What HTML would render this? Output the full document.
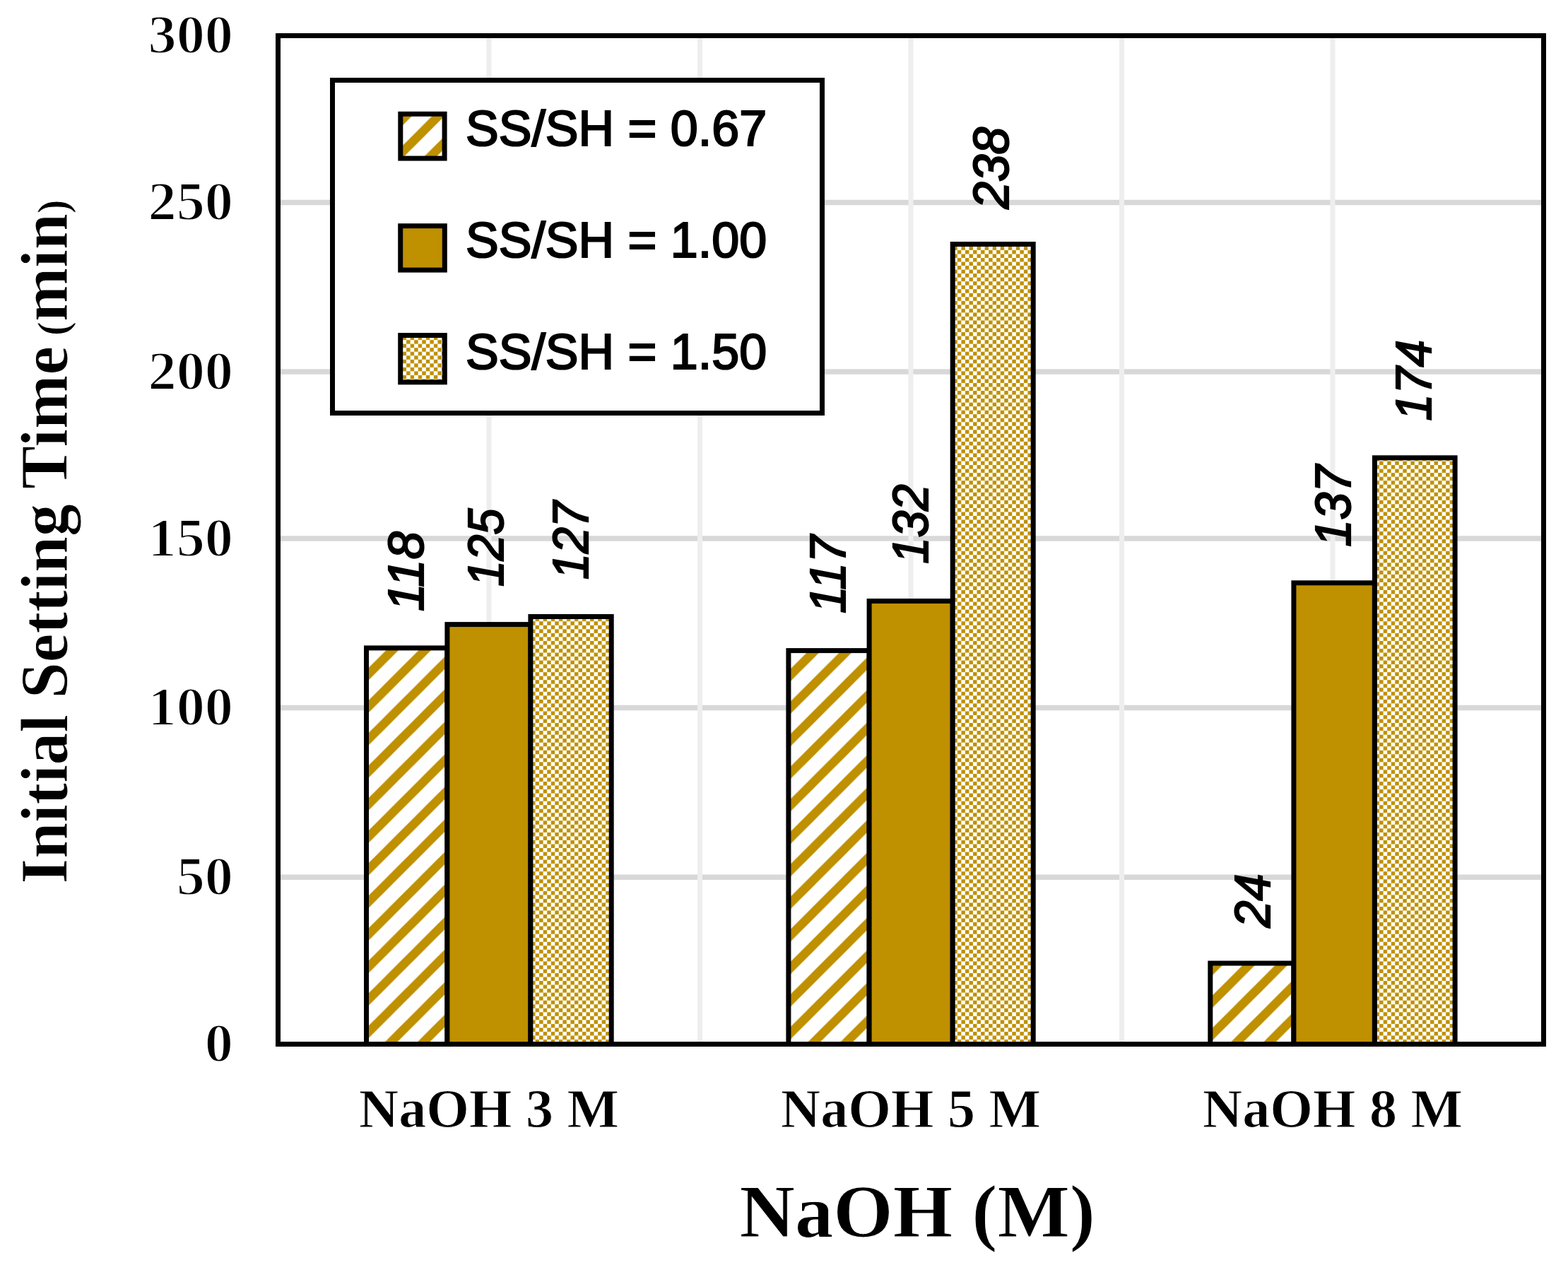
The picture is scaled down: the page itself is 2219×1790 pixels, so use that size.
<!DOCTYPE html><html><head><meta charset="utf-8"><title>Initial Setting Time vs NaOH</title><style>html,body{margin:0;padding:0;background:#fff;overflow:hidden;}svg{display:block;}</style></head><body>
<svg width="2219" height="1790" viewBox="0 0 2219 1790">
<defs>
<pattern id="hatch" patternUnits="userSpaceOnUse" x="1.70" y="0" width="46.05" height="46.05"><rect width="46.05" height="46.05" fill="#fff"/><polygon points="0,8.749 8.749,0 0,0" fill="#BF9000"/><polygon points="0,37.300 37.300,0 46.05,0 46.05,8.749 8.749,46.05 0,46.05" fill="#BF9000"/><polygon points="37.300,46.05 46.05,37.300 46.05,46.05" fill="#BF9000"/></pattern>
<pattern id="checker" patternUnits="userSpaceOnUse" x="0" y="0" width="11.06" height="11.06"><rect width="11.06" height="11.06" fill="#fff"/><rect x="5.585" y="0.055" width="5.419" height="5.419" fill="#BF9000"/><rect x="0.055" y="5.585" width="5.419" height="5.419" fill="#BF9000"/></pattern>
</defs>
<rect width="2219" height="1790" fill="#fff"/>
<line x1="397" y1="1241.20" x2="2181" y2="1241.20" stroke="#D8D8D8" stroke-width="7.5"/>
<line x1="397" y1="1001.60" x2="2181" y2="1001.60" stroke="#D8D8D8" stroke-width="7.5"/>
<line x1="397" y1="762.00" x2="2181" y2="762.00" stroke="#D8D8D8" stroke-width="7.5"/>
<line x1="397" y1="526.10" x2="2181" y2="526.10" stroke="#D8D8D8" stroke-width="7.5"/>
<line x1="397" y1="286.50" x2="2181" y2="286.50" stroke="#D8D8D8" stroke-width="7.5"/>
<line x1="692.0" y1="54" x2="692.0" y2="1474" stroke="#EEEEEE" stroke-width="7"/>
<line x1="990.5" y1="54" x2="990.5" y2="1474" stroke="#EEEEEE" stroke-width="7"/>
<line x1="1289.0" y1="54" x2="1289.0" y2="1474" stroke="#EEEEEE" stroke-width="7"/>
<line x1="1587.5" y1="54" x2="1587.5" y2="1474" stroke="#EEEEEE" stroke-width="7"/>
<line x1="1886.0" y1="54" x2="1886.0" y2="1474" stroke="#EEEEEE" stroke-width="7"/>
<rect x="518.50" y="916.90" width="114.40" height="560.60" fill="url(#hatch)" stroke="#000" stroke-width="7"/>
<rect x="632.90" y="883.60" width="118.00" height="593.90" fill="#BF9000" stroke="#000" stroke-width="7"/>
<rect x="750.90" y="872.50" width="114.30" height="605.00" fill="url(#checker)" stroke="#000" stroke-width="7"/>
<rect x="1115.90" y="920.60" width="114.20" height="556.90" fill="url(#hatch)" stroke="#000" stroke-width="7"/>
<rect x="1230.10" y="850.50" width="118.10" height="627.00" fill="#BF9000" stroke="#000" stroke-width="7"/>
<rect x="1348.20" y="345.50" width="114.00" height="1132.00" fill="url(#checker)" stroke="#000" stroke-width="7"/>
<rect x="1712.80" y="1363.00" width="118.10" height="114.50" fill="url(#hatch)" stroke="#000" stroke-width="7"/>
<rect x="1830.90" y="824.80" width="114.50" height="652.70" fill="#BF9000" stroke="#000" stroke-width="7"/>
<rect x="1945.40" y="647.80" width="113.70" height="829.70" fill="url(#checker)" stroke="#000" stroke-width="7"/>
<rect x="393.5" y="50.5" width="1791" height="1427" fill="none" stroke="#000" stroke-width="7"/>
<rect x="470.5" y="113.5" width="693" height="471" fill="#fff" stroke="#000" stroke-width="7"/>
<rect x="566.8" y="161.3" width="62.3" height="62.8" fill="url(#hatch)" stroke="#000" stroke-width="7"/>
<text x="659" y="206.4" font-family="'Liberation Sans', Arial, sans-serif" font-size="70" stroke="#000" stroke-width="2.2">SS/SH = 0.67</text>
<rect x="566.7" y="319.7" width="62.6" height="62.4" fill="#BF9000" stroke="#000" stroke-width="7"/>
<text x="659" y="364.3" font-family="'Liberation Sans', Arial, sans-serif" font-size="70" stroke="#000" stroke-width="2.2">SS/SH = 1.00</text>
<rect x="566.7" y="474.5" width="62.6" height="66.3" fill="url(#checker)" stroke="#000" stroke-width="7"/>
<text x="659" y="522.2" font-family="'Liberation Sans', Arial, sans-serif" font-size="70" stroke="#000" stroke-width="2.2">SS/SH = 1.50</text>
<text transform="translate(330,1502.3) scale(1.03,1)" text-anchor="end" font-family="'Liberation Serif', 'Times New Roman', serif" font-weight="bold" font-size="78" stroke="#fff" stroke-width="2.0">0</text>
<text transform="translate(330,1266.0) scale(1.03,1)" text-anchor="end" font-family="'Liberation Serif', 'Times New Roman', serif" font-weight="bold" font-size="78" stroke="#fff" stroke-width="2.0">50</text>
<text transform="translate(330,1026.4) scale(1.03,1)" text-anchor="end" font-family="'Liberation Serif', 'Times New Roman', serif" font-weight="bold" font-size="78" stroke="#fff" stroke-width="2.0">100</text>
<text transform="translate(330,786.8) scale(1.03,1)" text-anchor="end" font-family="'Liberation Serif', 'Times New Roman', serif" font-weight="bold" font-size="78" stroke="#fff" stroke-width="2.0">150</text>
<text transform="translate(330,550.9) scale(1.03,1)" text-anchor="end" font-family="'Liberation Serif', 'Times New Roman', serif" font-weight="bold" font-size="78" stroke="#fff" stroke-width="2.0">200</text>
<text transform="translate(330,311.3) scale(1.03,1)" text-anchor="end" font-family="'Liberation Serif', 'Times New Roman', serif" font-weight="bold" font-size="78" stroke="#fff" stroke-width="2.0">250</text>
<text transform="translate(330,75.3) scale(1.03,1)" text-anchor="end" font-family="'Liberation Serif', 'Times New Roman', serif" font-weight="bold" font-size="78" stroke="#fff" stroke-width="2.0">300</text>
<text transform="translate(95,1250.5) rotate(-90) scale(0.965,1)" font-family="'Liberation Serif', 'Times New Roman', serif" font-weight="bold" font-size="95" stroke="#fff" stroke-width="1.0">Initial Setting Time<tspan font-size="62"> (</tspan>min<tspan font-size="62">)</tspan></text>
<text x="692.0" y="1595" text-anchor="middle" font-family="'Liberation Serif', 'Times New Roman', serif" font-weight="bold" font-size="78" stroke="#fff" stroke-width="1.0">NaOH 3 M</text>
<text x="1289.0" y="1595" text-anchor="middle" font-family="'Liberation Serif', 'Times New Roman', serif" font-weight="bold" font-size="78" stroke="#fff" stroke-width="1.0">NaOH 5 M</text>
<text x="1886.0" y="1595" text-anchor="middle" font-family="'Liberation Serif', 'Times New Roman', serif" font-weight="bold" font-size="78" stroke="#fff" stroke-width="1.0">NaOH 8 M</text>
<text transform="translate(1298.3,1750) scale(1.034,1)" text-anchor="middle" font-family="'Liberation Serif', 'Times New Roman', serif" font-weight="bold" font-size="105" stroke="#fff" stroke-width="1.0">NaOH (M)</text>
<text transform="translate(598.50,865.00) rotate(-90) scale(0.9965,1)" font-family="'Liberation Sans', Arial, sans-serif" font-style="italic" font-size="71" stroke="#000" stroke-width="2.2">118</text>
<text transform="translate(712.10,830.10) rotate(-90) scale(0.9311,1)" font-family="'Liberation Sans', Arial, sans-serif" font-style="italic" font-size="71" stroke="#000" stroke-width="2.2">125</text>
<text transform="translate(831.65,820.00) rotate(-90) scale(0.9342,1)" font-family="'Liberation Sans', Arial, sans-serif" font-style="italic" font-size="71" stroke="#000" stroke-width="2.2">127</text>
<text transform="translate(1195.60,868.10) rotate(-90) scale(0.9744,1)" font-family="'Liberation Sans', Arial, sans-serif" font-style="italic" font-size="71" stroke="#000" stroke-width="2.2">117</text>
<text transform="translate(1313.35,797.80) rotate(-90) scale(0.9507,1)" font-family="'Liberation Sans', Arial, sans-serif" font-style="italic" font-size="71" stroke="#000" stroke-width="2.2">132</text>
<text transform="translate(1427.40,295.60) rotate(-90) scale(0.9752,1)" font-family="'Liberation Sans', Arial, sans-serif" font-style="italic" font-size="71" stroke="#000" stroke-width="2.2">238</text>
<text transform="translate(1796.85,1312.50) rotate(-90) scale(0.9621,1)" font-family="'Liberation Sans', Arial, sans-serif" font-style="italic" font-size="71" stroke="#000" stroke-width="2.2">24</text>
<text transform="translate(1911.15,773.70) rotate(-90) scale(0.9734,1)" font-family="'Liberation Sans', Arial, sans-serif" font-style="italic" font-size="71" stroke="#000" stroke-width="2.2">137</text>
<text transform="translate(2025.25,595.50) rotate(-90) scale(0.9654,1)" font-family="'Liberation Sans', Arial, sans-serif" font-style="italic" font-size="71" stroke="#000" stroke-width="2.2">174</text>
</svg></body></html>
